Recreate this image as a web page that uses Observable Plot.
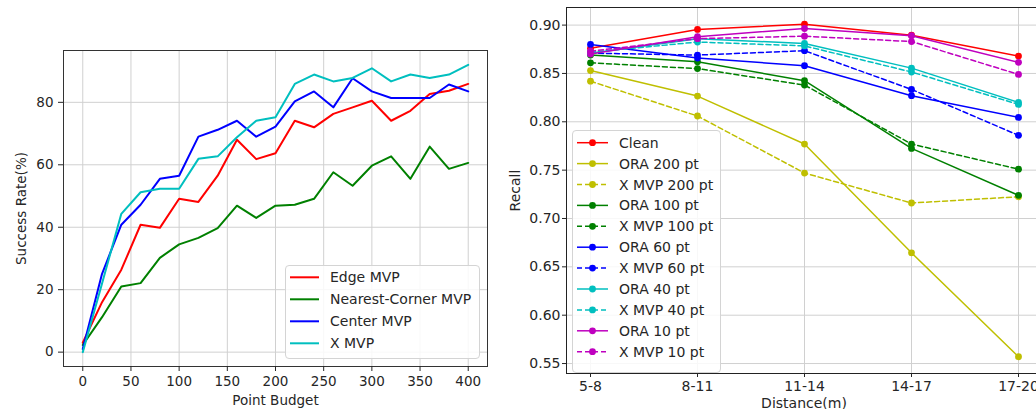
<!DOCTYPE html>
<html>
<head>
<meta charset="utf-8">
<script src="https://cdn.jsdelivr.net/npm/d3@7"></script>
<script src="https://cdn.jsdelivr.net/npm/@observablehq/plot@0.6"></script>
<style>
html,body{margin:0;padding:0;background:#fff;}
#wrap{position:relative;width:1036px;height:409px;overflow:hidden;font-family:"DejaVu Sans",sans-serif;}
.panel{position:absolute;top:0;}
.legend{position:absolute;background:rgba(255,255,255,0.85);border:1px solid #d4d4d4;border-radius:4px;box-sizing:border-box;}
.legend svg{position:absolute;left:0;top:0;overflow:visible;}
</style>
</head>
<body>
<div id="wrap"></div>
<script>
// ---------- Left panel data ----------
const budget = [0,20,40,60,80,100,120,140,160,180,200,220,240,260,280,300,320,340,360,380,400];
const edgeMVP    = [3,16,26.4,40.8,39.8,49.1,48.1,56.5,68,61.8,63.7,74.1,72,76.3,78.4,80.5,74.1,77.3,82.7,83.7,85.9];
const nearestMVP = [2.3,11.2,21,22.1,30.2,34.5,36.6,39.7,46.9,43,46.9,47.2,49.1,57.6,53.3,59.7,62.7,55.5,65.8,58.7,60.6];
const centerMVP  = [1,25.1,40.8,47.2,55.5,56.5,69,71.2,74.1,69,72.2,80.3,83.5,78.4,87.7,83.5,81.4,81.4,81.4,85.7,83.5];
const xMVP       = [0,22,44.3,51.2,52.3,52.3,61.9,62.7,68.8,74.1,75.2,85.9,88.9,86.7,87.8,90.9,86.7,88.9,87.8,88.9,92];
const leftNames  = ["Edge MVP","Nearest-Corner MVP","Center MVP","X MVP"];
const leftValues = [edgeMVP, nearestMVP, centerMVP, xMVP];
const leftColors = ["#ff0000","#008000","#0000ff","#00bfbf"];
const leftXTicks = [0,50,100,150,200,250,300,350,400];
const leftYTicks = [0,20,40,60,80];

// ---------- Right panel data ----------
const distances = ["5-8","8-11","11-14","14-17","17-20"];
const clean   = [0.876,0.8955,0.901,0.8895,0.868];
const ora200  = [0.853,0.8266,0.777,0.6645,0.557];
const xmvp200 = [0.842,0.806,0.747,0.716,0.7225];
const ora100  = [0.869,0.862,0.8425,0.7725,0.724];
const xmvp100 = [0.861,0.855,0.838,0.777,0.751];
const ora60   = [0.880,0.866,0.858,0.827,0.8045];
const xmvp60  = [0.871,0.869,0.8735,0.8335,0.786];
const ora40   = [0.871,0.886,0.881,0.8555,0.820];
const xmvp40  = [0.872,0.8825,0.8785,0.8515,0.818];
const ora10   = [0.870,0.888,0.8965,0.889,0.8615];
const xmvp10  = [0.873,0.886,0.8885,0.883,0.849];
const rightNames  = ["Clean","ORA 200 pt","X MVP 200 pt","ORA 100 pt","X MVP 100 pt","ORA 60 pt","X MVP 60 pt","ORA 40 pt","X MVP 40 pt","ORA 10 pt","X MVP 10 pt"];
const rightValues = [clean,ora200,xmvp200,ora100,xmvp100,ora60,xmvp60,ora40,xmvp40,ora10,xmvp10];
const rightColors = ["#ff0000","#bfbf00","#bfbf00","#008000","#008000","#0000ff","#0000ff","#00bfbf","#00bfbf","#bf00bf","#bf00bf"];
const rightDashed = [false,false,true,false,true,false,true,false,true,false,true];
const rightYTicks = [0.55,0.60,0.65,0.70,0.75,0.80,0.85,0.90];

const wrap = document.getElementById("wrap");
const gridStyle = {stroke:"#d0d0d0", strokeOpacity:1, strokeWidth:1};

// ---------- Left plot ----------
const leftRows = [];
leftNames.forEach((name,i) => budget.forEach((b,j) => leftRows.push({series:name, x:b, y:leftValues[i][j]})));

const left = Plot.plot({
  width: 500, height: 409,
  marginLeft: 63, marginRight: 13, marginTop: 50, marginBottom: 43,
  style: {fontFamily:"DejaVu Sans", fontSize:"13.5px", color:"#262626", background:"transparent", overflow:"visible"},
  x: {domain:[-20,420]},
  y: {domain:[-4.6,96.6]},
  color: {domain:leftNames, range:leftColors},
  marks: [
    Plot.gridX({ticks:leftXTicks, ...gridStyle}),
    Plot.gridY({ticks:leftYTicks, ...gridStyle}),
    Plot.line(leftRows, {x:"x", y:"y", z:"series", stroke:"series", strokeWidth:2}),
    Plot.frame({stroke:"#333", strokeWidth:1}),
    Plot.axisX({ticks:leftXTicks, tickSize:5, tickPadding:5, label:"Point Budget", labelAnchor:"center", labelArrow:"none", labelOffset:38}),
    Plot.axisY({ticks:leftYTicks, tickSize:5, tickPadding:5, label:"Success Rate(%)", labelAnchor:"center", labelArrow:"none", labelOffset:47})
  ]
});
left.classList.add("panel");
left.style.left = "0px";
wrap.appendChild(left);

// ---------- Right plot ----------
const rightMarks = [
  Plot.gridX({ticks:distances, ...gridStyle}),
  Plot.gridY({ticks:rightYTicks, ...gridStyle})
];
rightNames.forEach((name,i) => {
  const rows = distances.map((d,j) => ({series:name, d, v:rightValues[i][j]}));
  rightMarks.push(Plot.line(rows, {x:"d", y:"v", stroke:"series", strokeWidth:1.5, strokeDasharray: rightDashed[i] ? "5,3" : null}));
  rightMarks.push(Plot.dot(rows, {x:"d", y:"v", fill:"series", r:3.4}));
});
rightMarks.push(Plot.frame({stroke:"#222", strokeWidth:1}));
rightMarks.push(Plot.axisX({ticks:distances, tickSize:4, tickPadding:4, label:"Distance(m)", labelAnchor:"center", labelArrow:"none", labelOffset:34}));
rightMarks.push(Plot.axisY({ticks:rightYTicks, tickSize:4, tickPadding:2, tickFormat:d3.format(".2f"), label:"Recall", labelAnchor:"center", labelArrow:"none", labelOffset:56}));

const right = Plot.plot({
  width: 560, height: 409,
  marginLeft: 66, marginRight: 19, marginTop: 7, marginBottom: 36,
  style: {fontFamily:"DejaVu Sans", fontSize:"14px", color:"#262626", background:"transparent", overflow:"visible"},
  x: {type:"point", domain:distances, padding:0.2},
  y: {domain:[0.5397,0.9182]},
  color: {type:"ordinal", domain:rightNames, range:rightColors},
  marks: rightMarks
});
right.classList.add("panel");
right.style.left = "500px";
wrap.appendChild(right);

// ---------- Legends ----------
function legend(box, names, colors, dashed, withDots, y0, step, lineX0, lineX1, textX) {
  const div = d3.select(wrap).append("div").attr("class","legend")
    .style("left", box.x + "px").style("top", box.y + "px")
    .style("width", box.w + "px").style("height", box.h + "px");
  const svg = div.append("svg").attr("width", box.w).attr("height", box.h)
    .style("left","-1px").style("top","-1px");
  names.forEach((n,i) => {
    const y = y0 + i*step - box.y;
    const g = svg.append("g");
    g.append("line").attr("x1", lineX0 - box.x).attr("x2", lineX1 - box.x).attr("y1", y).attr("y2", y)
      .attr("stroke", colors[i]).attr("stroke-width", withDots ? 1.5 : 2)
      .attr("stroke-dasharray", dashed && dashed[i] ? "5,3" : null);
    if (withDots) g.append("circle").attr("cx", (lineX0+lineX1)/2 - box.x).attr("cy", y).attr("r", 3.4).attr("fill", colors[i]);
    g.append("text").attr("x", textX - box.x).attr("y", y).attr("dy","0.36em")
      .attr("font-family","DejaVu Sans").attr("font-size","14px").attr("fill","#262626").text(n);
  });
}
legend({x:285, y:265, w:195, h:94}, leftNames, leftColors, null, false, 277.3, 22, 290, 319, 330);
legend({x:572, y:130, w:149, h:243}, rightNames, rightColors, rightDashed, true, 142.7, 20.9, 577, 608, 619);
</script>
</body>
</html>
